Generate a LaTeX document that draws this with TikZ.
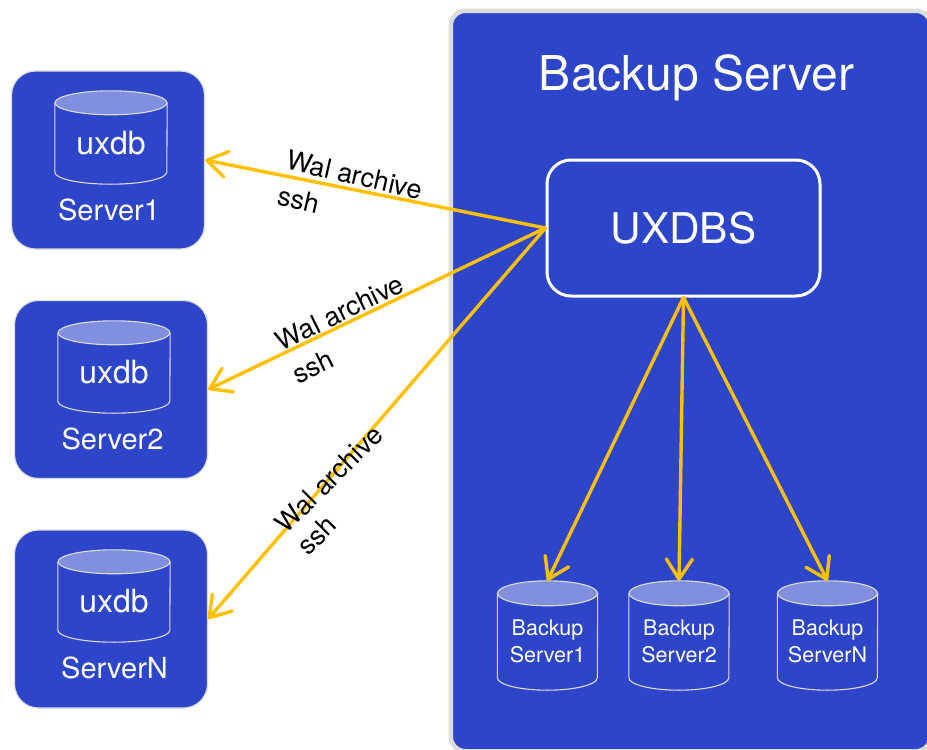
\documentclass[tikz,border=0pt]{standalone}
\usepackage{fontspec}
\setmainfont{TeX Gyre Heros}
\usetikzlibrary{arrows.meta,calc}
\definecolor{panelblue}{HTML}{2D45C8}
\definecolor{toplight}{HTML}{8190DE}
\definecolor{edgegray}{HTML}{DCDCDC}
\definecolor{arrowgold}{HTML}{FFC000}
\tikzset{
  x=1pt,y=-1pt,
  panel/.style={draw=edgegray,line width=4.5pt,fill=panelblue,rounded corners=15pt,inner sep=0pt,minimum width=480pt,minimum height=740.5pt},
  serverbox/.style={draw=edgegray,line width=1.2pt,fill=panelblue,rounded corners=24pt,inner sep=0pt,minimum width=193pt,minimum height=178pt},
  corebox/.style={draw=white,line width=3pt,fill=panelblue,rounded corners=24pt,inner sep=0pt,minimum width=273pt,minimum height=136pt,text=white,font=\fontsize{42.3pt}{46pt}\selectfont},
  cylbox/.style={inner sep=0pt,minimum width=#1},
  cylline/.style={draw=edgegray,line width=1.1pt},
  link/.style={draw=arrowgold,line width=3.4pt,line cap=round,line join=round,-{Straight Barb[length=20pt,width=26pt,line width=3.4pt,round]}},
  whitetext/.style={text=white,inner sep=0pt},
  big/.style={whitetext,font=\fontsize{48pt}{52pt}\selectfont},
  mid/.style={whitetext,font=\fontsize{32pt}{36pt}\selectfont},
  lab/.style={whitetext,font=\fontsize{29pt}{32pt}\selectfont},
  small/.style={whitetext,align=center,font=\fontsize{21.5pt}{27pt}\selectfont},
  wal/.style={text=black,inner sep=0pt,align=left,font=\fontsize{26.8pt}{37pt}\selectfont},
}
% name, centre x, top y, width, height, ellipse ry
\newcommand{\cylin}[6]{%
  \node[cylbox=#4 pt,minimum height=#5 pt] (#1) at (#2,#3+#5/2) {};
  \path[cylline,fill=panelblue]
    ($(#1.north west)+(0,#6)$) -- ($(#1.south west)+(0,-#6)$)
    arc[start angle=180,end angle=360,x radius=#4/2,y radius=-#6]
    -- ($(#1.north east)+(0,#6)$);
  \path[cylline,fill=toplight] ($(#1.north)+(0,#6)$) ellipse[x radius=#4/2,y radius=#6];
}
\begin{document}
\begin{tikzpicture}
\useasboundingbox (0,0) rectangle (927,750);
\begin{scope}
\clip (0,0) rectangle (927,750);
\node[panel,anchor=north west] (backup) at (448.5,8.5) {};
\end{scope}
\node[big] (title) at (696.5,78) {Backup Server};
\node[corebox] (core) at (683.5,228) {UXDBS};

\node[serverbox] (s1) at (108,160) {};
\node[serverbox] (s2) at (111,389.5) {};
\node[serverbox] (s3) at (111,619) {};

\cylin{c1}{111}{91}{112}{93}{12}
\cylin{c2}{114}{321}{112}{92}{12}
\cylin{c3}{114}{550}{112}{92}{12}
\node[mid] (t1) at (111,143) {uxdb};
\node[mid] (t2) at (114,372) {uxdb};
\node[mid] (t3) at (114,601) {uxdb};
\node[lab] (l1) at (109,210) {Server1};
\node[lab] (l2) at (112.5,439) {Server2};
\node[lab] (l3) at (114.5,668) {ServerN};

\cylin{b1}{547.5}{581}{100}{109}{12.5}
\cylin{b2}{679}{581}{100}{109}{12.5}
\cylin{b3}{827.5}{581}{100}{109}{12.5}
\node[small] (bt1) at (547.5,641) {Backup\\Server1};
\node[small] (bt2) at (679,641) {Backup\\Server2};
\node[small] (bt3) at (827.5,641) {Backup\\ServerN};

\draw[link] (core.west) -- (s1.east);
\draw[link] (core.west) -- (s2.east);
\draw[link] (core.west) -- (s3.east);
\draw[link] (core.south) -- (b1.north);
\draw[link] (core.south) -- (b2.north);
\draw[link] (core.south) -- (b3.north);

\node[wal,rotate=-13,anchor=center] (w1) at (350.5,193) {Wal archive\\ssh};
\node[wal,rotate=26,anchor=center] (w2) at (348,329) {Wal archive\\ssh};
\node[wal,rotate=45,anchor=center] (w3) at (340,490) {Wal archive\\[-6pt]ssh};
\end{tikzpicture}
\end{document}
